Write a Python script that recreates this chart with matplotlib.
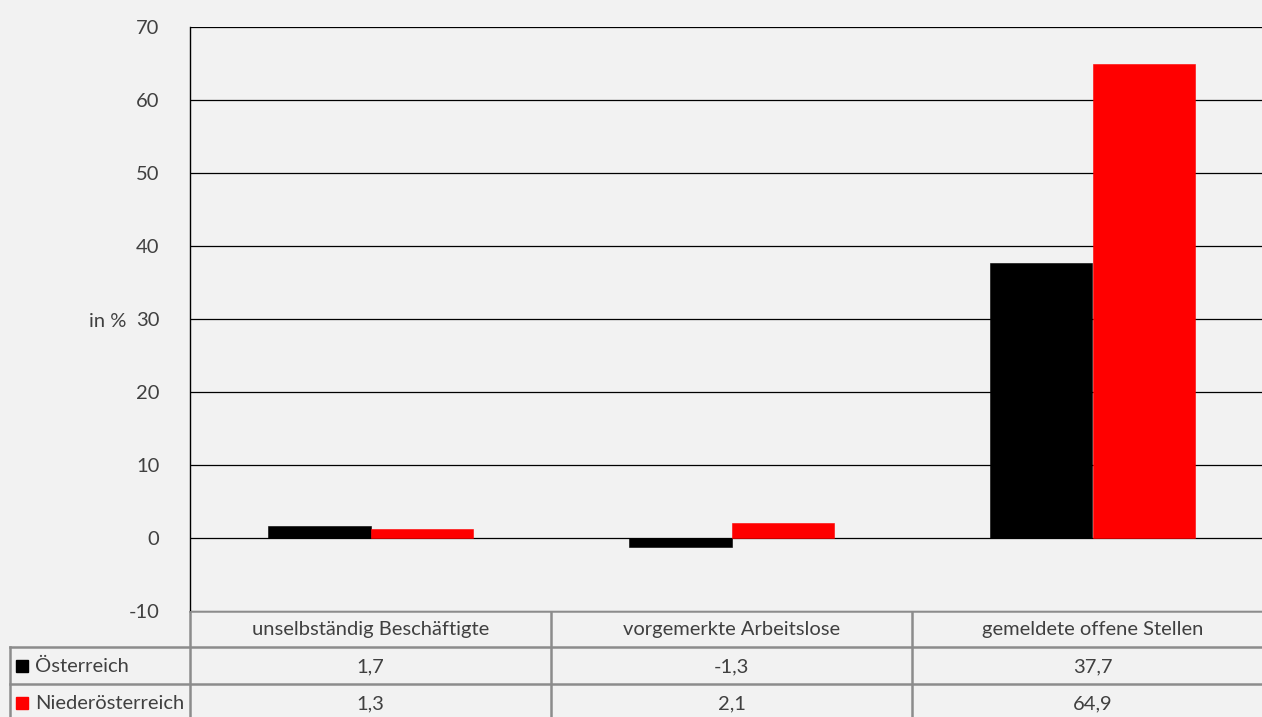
import matplotlib.pyplot as plt
import numpy as np

categories = ["unselbständig Beschäftigte", "vorgemerkte Arbeitslose", "gemeldete offene Stellen"]
series_names = ["Österreich", "Niederösterreich"]
oesterreich = [1.7, -1.3, 37.7]
niederoesterreich = [1.3, 2.1, 64.9]
colors = ["#000000", "#ff0000"]

W, H = 1262, 717
bg = "#f2f2f2"
grid_c = "#8c8c8c"
txt_c = "#404040"
plt.rcParams['font.family'] = ['Lato', 'DejaVu Sans']
plt.rcParams['axes.unicode_minus'] = False
fs = 14.5

fig = plt.figure(figsize=(W / 100, H / 100), dpi=100, facecolor=bg)

# main plot area (runs a little past the right edge, as in the original)
ax_w = 1083
ax = fig.add_axes([190 / W, (H - 611) / H, ax_w / W, 584 / H], facecolor=bg)
x = np.arange(len(categories))
bw = 0.285
for i, (vals, c) in enumerate(zip([oesterreich, niederoesterreich], colors)):
    ax.bar(x + (i - 0.5) * bw, vals, bw, color=c, align='center', zorder=3,
           edgecolor=c, linewidth=0.4)

ax.set_xlim(-0.5, len(categories) - 0.5)
ax.set_ylim(-10, 70)
ax.set_yticks(range(-10, 71, 10))
ax.set_xticks([])
ax.yaxis.grid(True, color="#000000", linewidth=0.9, zorder=0)
ax.tick_params(axis='y', length=0, pad=22, labelsize=fs, labelcolor=txt_c)
for s in ["top", "right", "bottom"]:
    ax.spines[s].set_visible(False)
ax.spines["left"].set_color("#000000")
ax.spines["left"].set_linewidth(1.0)
ax.axhline(70, color="#666666", linewidth=1.2, zorder=1)
fig.text(108 / W, 1 - 322 / H, "in %", ha='center', va='center', fontsize=fs,
         color=txt_c)

# data table below
tax = fig.add_axes([0, 0, 1, (H - 611) / H], facecolor='none')
tax.set_xlim(0, W)
tax.set_ylim(717, 611)
tax.axis('off')
lw = 1.8
col_edges = [190 + ax_w * k / len(categories) for k in range(len(categories) + 1)]
row_y = [611, 647, 684, 721]
tax.plot([190, W], [row_y[0]] * 2, color=grid_c, lw=lw)
for yy in row_y[1:3]:
    tax.plot([10, W], [yy, yy], color=grid_c, lw=lw)
tax.plot([10, 10], [row_y[1], 717], color=grid_c, lw=lw)
for xe in col_edges[:-1]:
    tax.plot([xe, xe], [row_y[0], 717], color=grid_c, lw=lw)

for j, cat in enumerate(categories):
    cx = (col_edges[j] + col_edges[j + 1]) / 2
    tax.text(cx, (row_y[0] + row_y[1]) / 2 + 1, cat, ha='center', va='center',
             fontsize=fs, color=txt_c)
for r, (name, vals, c) in enumerate(zip(series_names, [oesterreich, niederoesterreich], colors)):
    cy = (row_y[r + 1] + row_y[r + 2]) / 2 + 1
    tax.add_patch(plt.Rectangle((16, cy - 6.5), 12, 12, color=c))
    tax.text(35, cy, name, ha='left', va='center', fontsize=fs, color=txt_c)
    for j, v in enumerate(vals):
        cx = (col_edges[j] + col_edges[j + 1]) / 2
        tax.text(cx, cy, f"{v:.1f}".replace(".", ","), ha='center', va='center',
                 fontsize=fs, color=txt_c)

fig.savefig("out.png", dpi=100, facecolor=bg)
